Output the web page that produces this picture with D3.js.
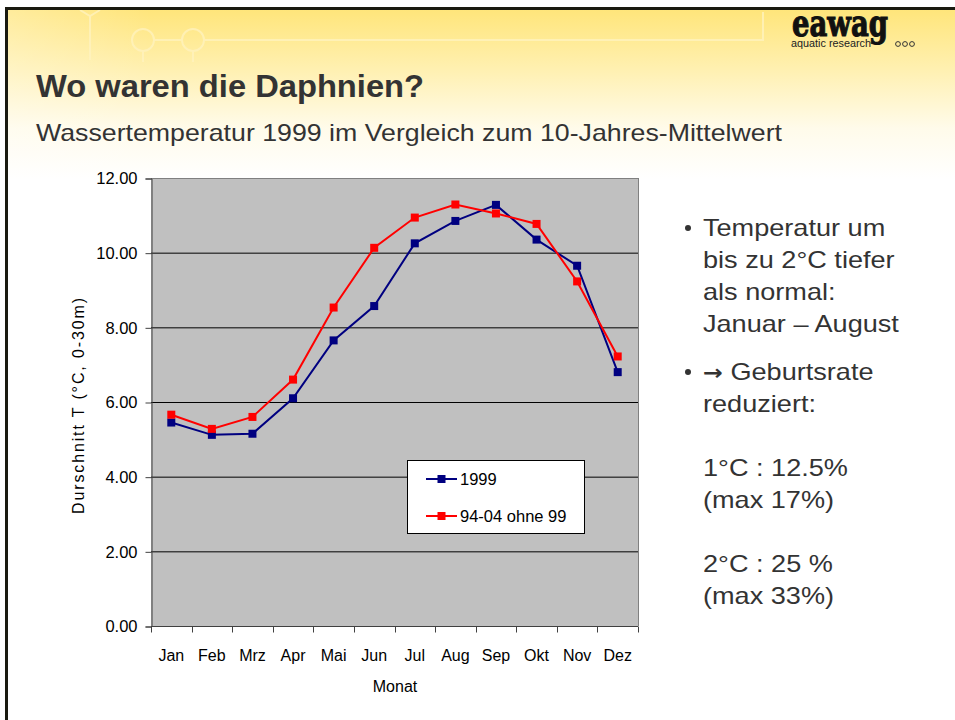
<!DOCTYPE html>
<html>
<head>
<meta charset="utf-8">
<script src="https://cdn.jsdelivr.net/npm/d3@7/dist/d3.min.js"></script>
<style>
html,body{margin:0;padding:0;background:#fff;}
svg{display:block;}
</style>
</head>
<body>
<svg id="c" width="955" height="720"></svg>
<script>
const months = ["Jan","Feb","Mrz","Apr","Mai","Jun","Jul","Aug","Sep","Okt","Nov","Dez"];
const series1999 = [5.45,5.12,5.15,6.10,7.65,8.57,10.25,10.85,11.28,10.35,9.65,6.80];
const seriesMean = [5.66,5.28,5.60,6.60,8.53,10.13,10.94,11.29,11.05,10.77,9.23,7.22];
const yTicks = [0,2,4,6,8,10,12];
const seriesNames = ["1999","94-04 ohne 99"];
const seriesColors = ["#000080","#FF0000"];
const bulletLines = [
  {b:true, t:"Temperatur um"},
  {b:false,t:"bis zu 2°C tiefer"},
  {b:false,t:"als normal:"},
  {b:false,t:"Januar – August"},
  {b:true, t:" Geburtsrate", arrow:true, gap:true},
  {b:false,t:"reduziert:"},
  {b:false,t:""},
  {b:false,t:"1°C : 12.5%"},
  {b:false,t:"(max 17%)"},
  {b:false,t:""},
  {b:false,t:"2°C : 25 %"},
  {b:false,t:"(max 33%)"}
];

const svg = d3.select("#c");
const defs = svg.append("defs");
const grad = defs.append("linearGradient").attr("id","hdr").attr("x1",0).attr("y1",0).attr("x2",0).attr("y2",1);
grad.append("stop").attr("offset","0%").attr("stop-color","#FFE57A");
grad.append("stop").attr("offset","35%").attr("stop-color","#FFF0B0");
grad.append("stop").attr("offset","70%").attr("stop-color","#FFFBEA");
grad.append("stop").attr("offset","100%").attr("stop-color","#FFFFFF");
const gradH = defs.append("linearGradient").attr("id","hdrH").attr("x1",0).attr("y1",0).attr("x2",1).attr("y2",0);
gradH.append("stop").attr("offset","0%").attr("stop-color","#FFFFFF").attr("stop-opacity",0.25);
gradH.append("stop").attr("offset","15%").attr("stop-color","#FFFFFF").attr("stop-opacity",0);
gradH.append("stop").attr("offset","100%").attr("stop-color","#FFFFFF").attr("stop-opacity",0);

// slide background
svg.append("rect").attr("x",0).attr("y",0).attr("width",955).attr("height",720).attr("fill","#fff");
svg.append("rect").attr("x",8).attr("y",9).attr("width",947).attr("height",170).attr("fill","url(#hdr)");
svg.append("rect").attr("x",8).attr("y",9).attr("width",947).attr("height",170).attr("fill","url(#hdrH)");

// decorative lines
const deco = svg.append("g").attr("stroke","#FFF3C0").attr("stroke-width",2).attr("fill","none").attr("opacity",0.75);
deco.append("path").attr("d","M80,10 L90,16 L100,10 M90,16 L90,60");
deco.append("circle").attr("cx",143).attr("cy",40).attr("r",11);
deco.append("circle").attr("cx",193).attr("cy",40).attr("r",11);
deco.append("path").attr("d","M154,40 L182,40 M204,40 L763,40 L763,12 M143,51 L143,62 M193,51 L193,62");

// frame
svg.append("rect").attr("x",5).attr("y",7).attr("width",950).attr("height",3).attr("fill","#1a1a10");
svg.append("rect").attr("x",5).attr("y",7).attr("width",3).attr("height",713).attr("fill","#1a1a10");

// logo
svg.append("text").attr("x",792).attr("y",36).attr("font-family","DejaVu Serif").attr("font-weight","bold")
  .attr("font-size",38).attr("textLength",96).attr("lengthAdjust","spacingAndGlyphs")
  .attr("fill","#111").attr("stroke","#111").attr("stroke-width",1.2).text("eawag");
svg.append("text").attr("x",791).attr("y",47).attr("font-family","Liberation Sans").attr("font-size",10)
  .attr("textLength",80).attr("lengthAdjust","spacingAndGlyphs").attr("fill","#222").text("aquatic research");
[898,905,912].forEach(cx=>svg.append("circle").attr("cx",cx).attr("cy",44).attr("r",2.4).attr("fill","none").attr("stroke","#333").attr("stroke-width",1));

// title
svg.append("text").attr("x",36).attr("y",97).attr("font-family","Liberation Sans, Arial").attr("font-weight","bold")
  .attr("font-size",31).attr("textLength",388).attr("lengthAdjust","spacingAndGlyphs").attr("fill","#333").text("Wo waren die Daphnien?");
svg.append("text").attr("x",36).attr("y",141).attr("font-family","Liberation Sans, Arial")
  .attr("font-size",24).attr("textLength",746).attr("lengthAdjust","spacingAndGlyphs").attr("fill","#333")
  .text("Wassertemperatur 1999 im Vergleich zum 10-Jahres-Mittelwert");

// chart
const X0=151, X1=638, Y0=178, Y1=626;
const x = d3.scaleBand().domain(months).range([X0,X1]);
const y = d3.scaleLinear().domain([0,12]).range([Y1,Y0]);
const g = svg.append("g");
g.append("rect").attr("x",X0).attr("y",Y0).attr("width",X1-X0).attr("height",Y1-Y0).attr("fill","#C0C0C0");
g.selectAll("line.grid").data(yTicks.filter(d=>d>0&&d<12)).enter().append("line")
  .attr("x1",X0).attr("x2",X1).attr("y1",d=>y(d)+0.5).attr("y2",d=>y(d)+0.5).attr("stroke","#000").attr("stroke-width",1);
g.append("line").attr("x1",X0).attr("x2",X1).attr("y1",Y0+0.5).attr("y2",Y0+0.5).attr("stroke","#808080");
g.append("line").attr("x1",X1+0.5).attr("x2",X1+0.5).attr("y1",Y0).attr("y2",Y1).attr("stroke","#808080");

const yAxis = d3.axisLeft(y).tickValues(yTicks).tickFormat(d3.format(".2f")).tickSize(6).tickPadding(8);
const ya = g.append("g").attr("transform",`translate(${X0+0.5},0.5)`).call(yAxis);
ya.select(".domain").attr("stroke","#404040");
ya.selectAll(".tick line").attr("stroke","#404040");
ya.selectAll("text").attr("font-family","Liberation Sans, Arial").attr("font-size",16.5).attr("fill","#000");

const xAxis = d3.axisBottom(x).tickSize(0).tickPadding(23);
const xa = g.append("g").attr("transform",`translate(0,${Y1+0.5})`).call(xAxis);
xa.select(".domain").attr("stroke","#404040").attr("d",`M${X0},0H${X1}`);
xa.selectAll("text").attr("font-family","Liberation Sans, Arial").attr("font-size",16).attr("fill","#000");
const bounds = months.map(m=>x(m)).concat([X1]);
xa.selectAll("line.bt").data(bounds).enter().append("line").attr("class","bt")
  .attr("x1",d=>Math.round(d)+0.5).attr("x2",d=>Math.round(d)+0.5).attr("y1",0).attr("y2",6).attr("stroke","#404040");

svg.append("text").attr("transform","translate(84,406) rotate(-90)").attr("text-anchor","middle")
  .attr("font-family","Liberation Sans, Arial").attr("font-size",16).attr("textLength",216).attr("lengthAdjust","spacing").attr("fill","#000")
  .text("Durschnitt T (°C, 0-30m)");
svg.append("text").attr("x",395).attr("y",692).attr("text-anchor","middle")
  .attr("font-family","Liberation Sans, Arial").attr("font-size",16).attr("fill","#000").text("Monat");

const line = d3.line().x((d,i)=>x(months[i])+x.bandwidth()/2).y(d=>y(d));
[series1999, seriesMean].forEach((s,k)=>{
  g.append("path").datum(s).attr("d",line).attr("fill","none").attr("stroke",seriesColors[k]).attr("stroke-width",2);
  g.selectAll(null).data(s).enter().append("rect")
    .attr("x",(d,i)=>x(months[i])+x.bandwidth()/2-4).attr("y",d=>y(d)-4)
    .attr("width",8).attr("height",8).attr("fill",seriesColors[k]);
});

// legend
const lg = svg.append("g");
lg.append("rect").attr("x",407.5).attr("y",460.5).attr("width",177).attr("height",73).attr("fill","#fff").attr("stroke","#000");
seriesNames.forEach((n,k)=>{
  const ly = 479 + k*37;
  lg.append("line").attr("x1",426).attr("x2",457).attr("y1",ly).attr("y2",ly).attr("stroke",seriesColors[k]).attr("stroke-width",2);
  lg.append("rect").attr("x",437.5).attr("y",ly-4).attr("width",8).attr("height",8).attr("fill",seriesColors[k]);
  lg.append("text").attr("x",460).attr("y",ly+6).attr("font-family","Liberation Sans, Arial").attr("font-size",16.5).attr("fill","#000").text(n);
});

// bullet text
const bb = svg.append("g").attr("fill","#333");
const bt = svg.append("g").attr("transform","translate(703,0) scale(1.13,1) translate(-703,0)")
  .attr("font-family","Liberation Sans, Arial").attr("font-size",24).attr("fill","#333");
let by = 236;
bulletLines.forEach((l,i)=>{
  if (l.gap) by += 16;
  if (l.b) bb.append("circle").attr("cx",688).attr("cy",by-8).attr("r",3);
  if (l.t) {
    const t = bt.append("text").attr("x",703).attr("y",by);
    if (l.arrow) t.append("tspan").attr("font-family","DejaVu Sans").attr("font-weight","bold").attr("font-size",21).text("\u2192");
    t.append("tspan").text(l.t);
  }
  by += 32;
});
</script>
</body>
</html>
